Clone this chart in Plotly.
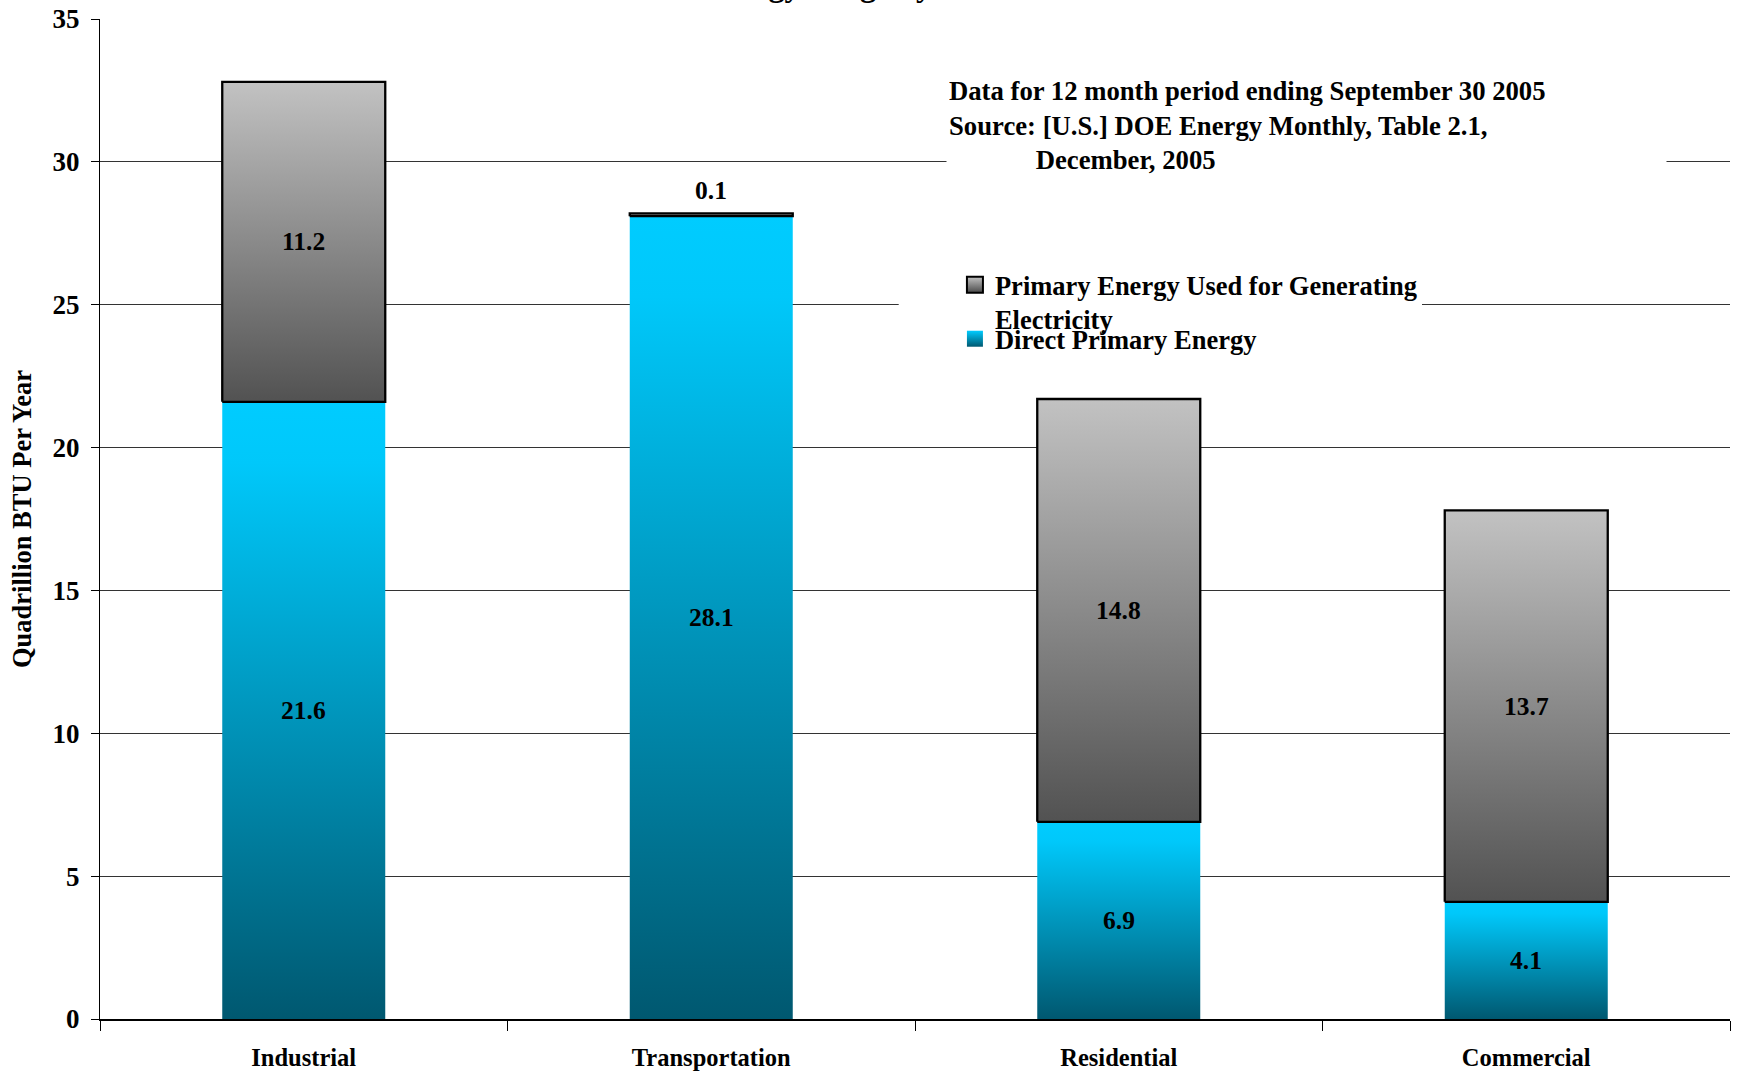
import plotly.graph_objects as go

# ---- data ----
categories = ["Industrial", "Transportation", "Residential", "Commercial"]
direct_primary = [21.6, 28.1, 6.9, 4.1]
electricity_primary = [11.2, 0.1, 14.8, 13.7]
y_ticks = [0, 5, 10, 15, 20, 25, 30, 35]

series_names = ["Primary Energy Used for Generating<br>Electricity", "Direct Primary Energy"]
title_text = "Energy Usage by Sector"
note_lines = [
    "Data for 12 month period ending September 30 2005",
    "Source: [U.S.] DOE Energy Monthly, Table 2.1,",
    "December, 2005",
]

# ---- style ----
FONT = "Liberation Serif, Times New Roman, serif"
BAR_W = 0.4
BLUE_SCALE = [[0, "#005870"], [0.9, "#00c8fa"], [1, "#00ccff"]]
GRAY_SCALE = [[0, "#525252"], [1, "#c2c2c2"]]

fig = go.Figure()


def rect(i, lo, hi):
    xs = [i - BAR_W / 2, i + BAR_W / 2, i + BAR_W / 2, i - BAR_W / 2, i - BAR_W / 2]
    ys = [lo, lo, hi, hi, lo]
    return xs, ys


# direct primary energy segments (bottom)
for i, v in enumerate(direct_primary):
    xs, ys = rect(i, 0, v)
    fig.add_trace(go.Scatter(
        x=xs, y=ys, mode="lines", fill="toself",
        fillgradient=dict(type="vertical", colorscale=BLUE_SCALE),
        line=dict(width=0, color="rgba(0,0,0,0)"),
        showlegend=False, hoverinfo="skip",
    ))

# electricity segments (top)
for i, (b, v) in enumerate(zip(direct_primary, electricity_primary)):
    xs, ys = rect(i, b, b + v)
    fig.add_trace(go.Scatter(
        x=xs, y=ys, mode="lines", fill="toself",
        fillgradient=dict(type="vertical", colorscale=GRAY_SCALE),
        line=dict(width=2.3, color="black"),
        showlegend=False, hoverinfo="skip",
    ))

# legend-only entries
fig.add_trace(go.Scatter(
    x=[None], y=[None], mode="markers", name="<b>" + series_names[0] + "</b>",
    legend="legend",
    marker=dict(symbol="square", size=16, color="#c2c2c2",
                gradient=dict(type="vertical", color="#4a4a4a"),
                line=dict(color="black", width=2)),
))
fig.add_trace(go.Scatter(
    x=[None], y=[None], mode="markers", name="<b>" + series_names[1] + "</b>",
    legend="legend2",
    marker=dict(symbol="square", size=16, color="#00ccff",
                gradient=dict(type="vertical", color="#005870"),
                line=dict(color="#00ccff", width=0)),
))

annotations = []
LABEL_FONT = dict(family=FONT, size=25.5, color="black")
# value labels
for i, (b, v) in enumerate(zip(direct_primary, electricity_primary)):
    annotations.append(dict(x=i, y=b / 2, text=f"<b>{b}</b>", showarrow=False, font=LABEL_FONT))
    if v < 1:
        annotations.append(dict(x=i, y=b + v, text=f"<b>{v}</b>", showarrow=False,
                                yanchor="bottom", yshift=6, font=LABEL_FONT))
    else:
        annotations.append(dict(x=i, y=b + v / 2, text=f"<b>{v}</b>", showarrow=False, font=LABEL_FONT))

# note box
indent = "\u00a0" * 13
note = "<b>" + note_lines[0] + "<br>" + note_lines[1] + "<br>" + indent + note_lines[2] + "</b>"
annotations.append(dict(
    xref="paper", yref="paper", x=0.519, y=0.946, xanchor="left", yanchor="top",
    text=note, showarrow=False, align="left", width=715, bgcolor="white",
    borderpad=2, font=dict(family=FONT, size=26.7, color="black"),
))

# clipped title (only the bottom shows in the reference)
annotations.append(dict(
    xref="paper", yref="paper", x=0.469, y=1.034, xanchor="center", yanchor="middle",
    text="<b>" + title_text + "</b>", showarrow=False,
    font=dict(family=FONT, size=32, color="black"),
))

LEGEND_FONT = dict(family=FONT, size=26.5, color="black")

fig.update_layout(
    template="none",
    width=1739, height=1073,
    margin=dict(l=100, r=9, t=19, b=54),
    paper_bgcolor="white", plot_bgcolor="white",
    font=dict(family=FONT, size=24, color="black"),
    showlegend=True,
    legend=dict(
        x=0.5245, y=0.758, xanchor="left", yanchor="top",
        bgcolor="white", font=LEGEND_FONT,
        valign="top", tracegroupgap=0, itemsizing="trace",
        entrywidth=505,
    ),
    legend2=dict(
        x=0.5245, y=0.704, xanchor="left", yanchor="top",
        bgcolor="rgba(255,255,255,0)", font=LEGEND_FONT,
        valign="top", tracegroupgap=0, itemsizing="trace",
    ),
    shapes=[dict(
        type="rect", xref="paper", yref="paper", layer="above",
        x0=0.49, x1=0.528, y0=0.70, y1=0.73,
        fillcolor="white", line=dict(width=0),
    )],
    xaxis=dict(
        range=[-0.5, 3.5], tickvals=list(range(len(categories))), ticktext=[f"<b>{c}</b>" for c in categories],
        ticks="", showgrid=False, zeroline=False, automargin=False,
        showline=True, linecolor="black", linewidth=2,
        tickfont=dict(family=FONT, size=24.5, color="black"),
        ticklabelstandoff=16,
        minor=dict(tick0=-0.5, dtick=1, ticks="outside", ticklen=10, tickcolor="black", tickwidth=1, showgrid=False),
    ),
    yaxis=dict(
        range=[0, 35], tickvals=y_ticks, ticktext=[f"<b>{t}</b>" for t in y_ticks],
        ticks="outside", ticklen=8, tickcolor="black", automargin=False,
        ticklabelstandoff=6,
        showgrid=True, gridcolor="#333333", gridwidth=1, zeroline=False,
        showline=True, linecolor="black", linewidth=1,
        tickfont=dict(family=FONT, size=27, color="black"),
        title=dict(text="<b>Quadrillion BTU Per Year</b>", font=dict(family=FONT, size=26.5, color="black"), standoff=13),
    ),
    annotations=annotations,
)

fig.write_html("out.html", config={"displayModeBar": False},
               post_script="document.body.style.margin='0';")
